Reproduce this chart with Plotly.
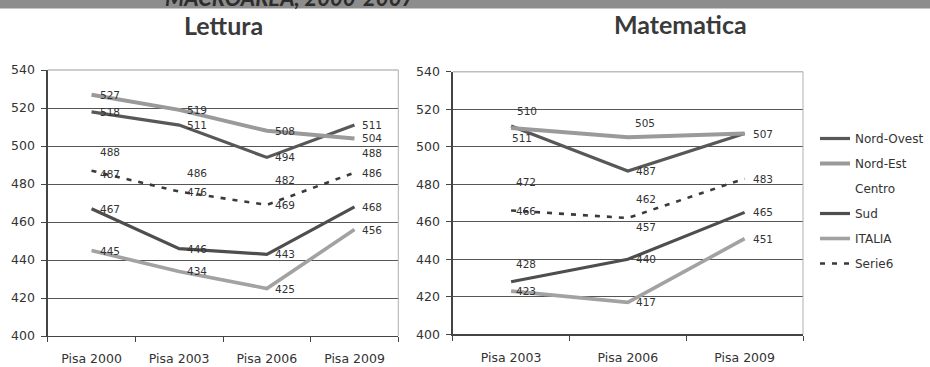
import plotly.graph_objects as go

# ---------------- data ----------------
lettura_cats = ["Pisa 2000", "Pisa 2003", "Pisa 2006", "Pisa 2009"]
matematica_cats = ["Pisa 2003", "Pisa 2006", "Pisa 2009"]
series_names = ["Nord-Ovest", "Nord-Est", "Centro", "Sud", "ITALIA", "Serie6"]

lettura_nord_ovest = [518, 511, 494, 511]
lettura_nord_est = [527, 519, 508, 504]
lettura_centro = [488, 486, 482, 488]
lettura_sud = [467, 446, 443, 468]
lettura_italia = [445, 434, 425, 456]
lettura_serie6 = [487, 476, 469, 486]

mat_nord_ovest = [511, 487, 507]
mat_nord_est = [510, 505, 507]
mat_centro = [472, 457, 483]
mat_sud = [428, 440, 465]
mat_italia = [423, 417, 451]
mat_serie6 = [466, 462, 483]

y_tickvals = [400, 420, 440, 460, 480, 500, 520, 540]

header_text = "MACROAREA, 2000-2007"
title_lettura = "Lettura"
title_matematica = "Matematica"

# ---------------- styles ----------------
W, H = 930, 367
FONT = "DejaVu Sans"
TXT = "#333333"
styles = {
    "Nord-Ovest": dict(color="#585858", width=3.2, dash="solid"),
    "Nord-Est": dict(color="#9a9a9a", width=4, dash="solid"),
    "Centro": dict(color="rgba(0,0,0,0)", width=3, dash="solid"),
    "Sud": dict(color="#4e4e4e", width=3.2, dash="solid"),
    "ITALIA": dict(color="#a2a2a2", width=3.6, dash="solid"),
    "Serie6": dict(color="#3a3a3a", width=2.6, dash="5px,7px"),
}

# label pixel offsets (dx, dy) where they differ from the default (right of point)
label_shift = {
    ("L", "Centro", 0): (18, 17),
    ("L", "Centro", 3): (18, 16),
    ("L", "Serie6", 0): (18, -3),
    ("M", "Nord-Ovest", 0): (11, -12),
    ("M", "Nord-Est", 0): (16, 17),
    ("M", "Nord-Est", 1): (17, 14),
    ("M", "Centro", 0): (15, 17),
    ("M", "Serie6", 0): (15, 0),
    ("M", "Serie6", 1): (18, 19),
    ("M", "Sud", 0): (15, 18),
    ("M", "ITALIA", 0): (15, 0),
}

lettura = dict(zip(series_names, [lettura_nord_ovest, lettura_nord_est, lettura_centro,
                                  lettura_sud, lettura_italia, lettura_serie6]))
matem = dict(zip(series_names, [mat_nord_ovest, mat_nord_est, mat_centro,
                                mat_sud, mat_italia, mat_serie6]))

fig = go.Figure()
annotations = []

def px_x(p):
    return p / W

def px_y(p):
    return 1 - p / H

panels = [("L", lettura_cats, lettura, "x", "y"), ("M", matematica_cats, matem, "x2", "y2")]
for key, cats, data, xa, ya in panels:
    placed = set()
    for name in series_names:
        st = styles[name]
        fig.add_trace(go.Scatter(
            x=cats, y=data[name], mode="lines", name=name,
            line=dict(color=st["color"], width=st["width"], dash=st["dash"]),
            xaxis=xa, yaxis=ya, legendgroup=name, showlegend=(key == "L"),
            hoverinfo="skip"))
        for i, (c, v) in enumerate(zip(cats, data[name])):
            dx, dy = label_shift.get((key, name, i), (18, 0))
            spot = (c, v, dx, dy)
            if spot in placed:
                continue  # identical label in the identical spot
            placed.add(spot)
            annotations.append(dict(
                x=c, y=v, xref=xa, yref=ya, text=str(v), showarrow=False,
                xanchor="center", yanchor="middle", xshift=dx, yshift=dy,
                font=dict(family=FONT, size=10.5, color=TXT)))

# titles and header
annotations.append(dict(x=px_x(223), y=px_y(25), xref="paper", yref="paper", text="<b>%s</b>" % title_lettura,
                        showarrow=False, xanchor="center", yanchor="middle",
                        font=dict(family="Lato", size=25, color="#3a3a3a")))
annotations.append(dict(x=px_x(680), y=px_y(24), xref="paper", yref="paper", text="<b>%s</b>" % title_matematica,
                        showarrow=False, xanchor="center", yanchor="middle",
                        font=dict(family="Lato", size=25, color="#3a3a3a")))
annotations.append(dict(x=px_x(289), y=px_y(-2.5), xref="paper", yref="paper", text="<b><i>%s</i></b>" % header_text,
                        showarrow=False, xanchor="center", yanchor="middle",
                        font=dict(family="Lato", size=22, color="#2c2c2c")))

shapes = [
    dict(type="rect", xref="paper", yref="paper", x0=0, x1=1, y0=px_y(8.5), y1=px_y(-5),
         fillcolor="#8d8d8d", line=dict(width=0), layer="below"),
]
for xa, ya in [("x", "y"), ("x2", "y2")]:
    shapes.append(dict(type="line", xref=xa + " domain", yref=ya + " domain", x0=0, x1=1, y0=1, y1=1,
                       line=dict(color="#bdbdbd", width=1.6), layer="above"))
    shapes.append(dict(type="line", xref=xa + " domain", yref=ya + " domain", x0=1, x1=1, y0=0, y1=1,
                       line=dict(color="#b0b0b0", width=1), layer="above"))

xcommon = dict(type="category", showgrid=False, showline=True, linecolor="#444444", linewidth=1.3,
               ticks="outside", tickson="boundaries", ticklen=5, tickcolor="#444444",
               tickfont=dict(family=FONT, size=12.5, color=TXT), ticklabelstandoff=11, fixedrange=True)
ycommon = dict(range=[400, 540], tickvals=y_tickvals, showgrid=True, gridcolor="#555555", gridwidth=1,
               showline=True, linecolor="#444444", linewidth=1.3, ticks="outside", ticklen=5,
               tickcolor="#444444", tickfont=dict(family=FONT, size=12.5, color=TXT),
               ticklabelstandoff=4, zeroline=False, fixedrange=True)

fig.update_layout(
    width=W, height=H, margin=dict(l=0, r=0, t=0, b=0, autoexpand=False),
    paper_bgcolor="white", plot_bgcolor="white",
    showlegend=True,
    legend=dict(x=px_x(815), y=px_y(124), xanchor="left", yanchor="top",
                font=dict(family=FONT, size=12, color=TXT), traceorder="grouped",
                tracegroupgap=6, bgcolor="rgba(0,0,0,0)"),
    xaxis=dict(domain=[px_x(47.7), px_x(398.3)], range=[-0.5, 3.5], anchor="y", **xcommon),
    yaxis=dict(domain=[px_y(336), px_y(70)], anchor="x", **ycommon),
    xaxis2=dict(domain=[px_x(452.7), px_x(803)], range=[-0.5, 2.5], anchor="y2", **xcommon),
    yaxis2=dict(domain=[px_y(334.3), px_y(71.7)], anchor="x2", **ycommon),
    annotations=annotations,
    shapes=shapes,
)

fig.write_html("out.html", config={"displayModeBar": False, "staticPlot": True},
               post_script="document.body.style.margin='0';document.body.style.overflow='hidden';")
